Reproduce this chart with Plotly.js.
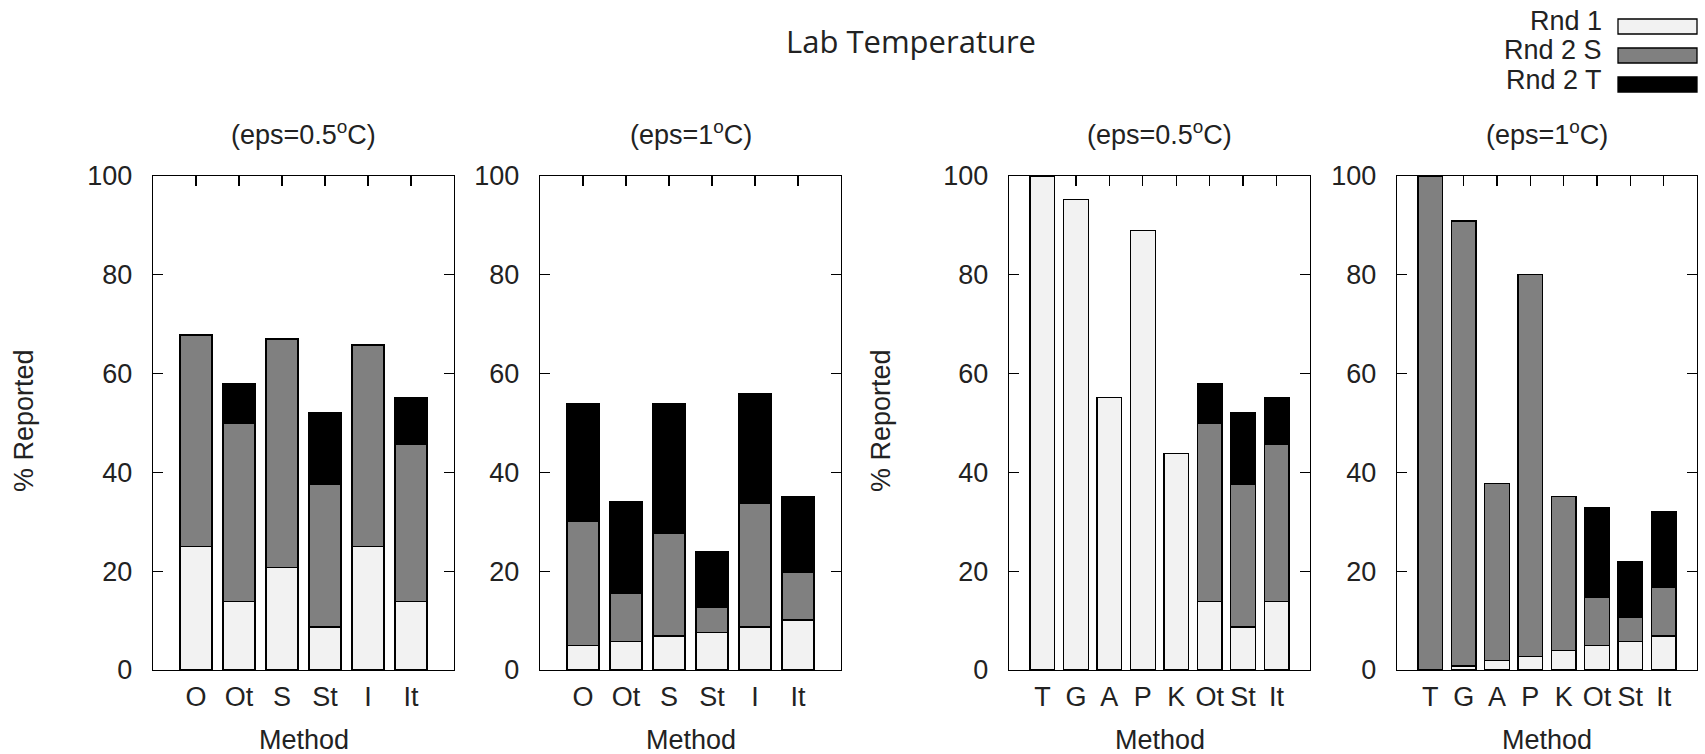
<!DOCTYPE html>
<html>
<head>
<meta charset="utf-8">
<script src="https://cdn.plot.ly/plotly-3.0.1.min.js"></script>
<style>html,body{margin:0;padding:0;background:#fff;}#chart{width:1705px;height:754px;}</style>
</head>
<body>
<div id="chart"></div>
<script>
// ---- data ----
var catsA = ['O', 'Ot', 'S', 'St', 'I', 'It'];
var catsB = ['T', 'G', 'A', 'P', 'K', 'Ot', 'St', 'It'];
var seriesNames = ['Rnd 1', 'Rnd 2 S', 'Rnd 2 T'];

// panel 1: eps = 0.5 C
var rnd1_A05  = [25.0, 13.8, 20.8, 8.7, 25.0, 13.8];
var rnd2S_A05 = [42.8, 36.1, 46.2, 28.9, 40.8, 31.8];
var rnd2T_A05 = [0, 8.0, 0, 14.4, 0, 9.5];
// panel 2: eps = 1 C
var rnd1_A1  = [5.0, 5.8, 6.9, 7.6, 8.7, 10.1];
var rnd2S_A1 = [25.0, 9.8, 20.7, 5.0, 25.0, 9.7];
var rnd2T_A1 = [24.0, 18.5, 26.4, 11.3, 22.2, 15.3];
// panel 3: eps = 0.5 C
var rnd1_B05  = [100, 95.2, 55.1, 88.9, 43.8, 13.8, 8.7, 13.8];
var rnd2S_B05 = [0, 0, 0, 0, 0, 36.1, 28.9, 31.8];
var rnd2T_B05 = [0, 0, 0, 0, 0, 8.0, 14.4, 9.5];
// panel 4: eps = 1 C
var rnd1_B1  = [0, 0.8, 1.9, 2.7, 3.9, 5.0, 5.8, 6.9];
var rnd2S_B1 = [100, 90.1, 35.9, 77.3, 31.2, 9.8, 4.8, 9.9];
var rnd2T_B1 = [0, 0, 0, 0, 0, 18.0, 11.4, 15.2];

var yTicks = [0, 20, 40, 60, 80, 100];
var subTitles = ['(eps=0.5<sup>o</sup>C)', '(eps=1<sup>o</sup>C)', '(eps=0.5<sup>o</sup>C)', '(eps=1<sup>o</sup>C)'];

// ---- layout helpers ----
var W = 1705, H = 754;
function px(x) { return x / W; }
function py(y) { return (H - y) / H; }
var colors = ['#f2f2f2', '#808080', '#000000'];
var FONT = 'Liberation Sans, Arial, sans-serif';
var FS = 27;

var panels = [
  {cats: catsA, data: [rnd1_A05, rnd2S_A05, rnd2T_A05], x0: 153, x1: 454},
  {cats: catsA, data: [rnd1_A1, rnd2S_A1, rnd2T_A1], x0: 540, x1: 841},
  {cats: catsB, data: [rnd1_B05, rnd2S_B05, rnd2T_B05], x0: 1009, x1: 1310},
  {cats: catsB, data: [rnd1_B1, rnd2S_B1, rnd2T_B1], x0: 1397, x1: 1697}
];
var yTop = 176, yBot = 670;

var traces = [];
var layout = {
  width: W, height: H,
  margin: {l: 0, r: 0, t: 0, b: 0},
  paper_bgcolor: '#fff', plot_bgcolor: '#fff',
  barmode: 'stack',
  showlegend: false,
  font: {family: FONT, size: FS, color: '#222'},
  annotations: [],
  shapes: []
};

panels.forEach(function (p, i) {
  var n = i + 1;
  var xa = 'x' + (n === 1 ? '' : n), ya = 'y' + (n === 1 ? '' : n);
  p.data.forEach(function (vals, s) {
    traces.push({
      type: 'bar', x: p.cats, y: vals, name: seriesNames[s],
      xaxis: xa, yaxis: ya, width: 0.74,
      marker: {color: colors[s], line: {color: '#000', width: 1.3}},
      hoverinfo: 'x+y+name'
    });
  });
  layout['xaxis' + (n === 1 ? '' : n)] = {
    domain: [px(p.x0), px(p.x1)], anchor: ya,
    type: 'category', range: [-1, p.cats.length],
    showline: true, linecolor: '#000', linewidth: 1.3, mirror: 'ticks',
    ticks: 'inside', ticklen: 10, tickwidth: 1.3, tickcolor: '#000',
    showgrid: false, zeroline: false, layer: 'below traces',
    tickfont: {family: FONT, size: FS, color: '#222'},
    ticklabelstandoff: 2, fixedrange: true
  };
  layout['yaxis' + (n === 1 ? '' : n)] = {
    domain: [py(yBot), py(yTop)], anchor: xa,
    range: [0, 100], tickvals: yTicks, ticktext: yTicks.map(String),
    showline: true, linecolor: '#000', linewidth: 1.3, mirror: 'ticks',
    ticks: 'inside', ticklen: 10, tickwidth: 1.3, tickcolor: '#000',
    showgrid: false, zeroline: false, layer: 'below traces',
    tickfont: {family: FONT, size: FS, color: '#222'},
    ticklabelstandoff: 14, fixedrange: true
  };
  // subplot title
  layout.annotations.push({
    text: subTitles[i], xref: xa + ' domain', yref: 'paper',
    x: 0.5, y: py(133), xanchor: 'center', yanchor: 'middle',
    showarrow: false, font: {family: FONT, size: FS, color: '#222'}
  });
  // x axis title
  layout.annotations.push({
    text: 'Method', xref: xa + ' domain', yref: 'paper',
    x: 0.5, y: py(740), xanchor: 'center', yanchor: 'middle',
    showarrow: false, font: {family: FONT, size: FS, color: '#222'}
  });
});

// y axis titles
[24, 881].forEach(function (x) {
  layout.annotations.push({
    text: '% Reported', xref: 'paper', yref: 'paper',
    x: px(x), y: py(421), xanchor: 'center', yanchor: 'middle', textangle: -90,
    showarrow: false, font: {family: FONT, size: FS, color: '#222'}
  });
});

// main title
layout.annotations.push({
  text: 'Lab Temperature', xref: 'paper', yref: 'paper',
  x: px(911), y: py(41), xanchor: 'center', yanchor: 'middle',
  showarrow: false, font: {family: 'Open Sans, Noto Sans, sans-serif', size: 31, color: '#222'}
});

// legend (text on the left, swatch on the right)
var legRows = [{yc: 21, y0: 19, y1: 34}, {yc: 50, y0: 48, y1: 63}, {yc: 80, y0: 77, y1: 92}];
seriesNames.forEach(function (nm, s) {
  var r = legRows[s];
  layout.annotations.push({
    text: nm, xref: 'paper', yref: 'paper', x: px(1604), y: py(r.yc),
    xanchor: 'right', yanchor: 'middle', showarrow: false,
    font: {family: FONT, size: FS, color: '#222'}
  });
  layout.shapes.push({
    type: 'rect', xref: 'paper', yref: 'paper',
    x0: px(1618), x1: px(1697), y0: py(r.y1), y1: py(r.y0),
    fillcolor: colors[s], line: {color: '#000', width: 1.3}
  });
});

Plotly.newPlot('chart', traces, layout, {staticPlot: true, displayModeBar: false});
</script>
</body>
</html>
